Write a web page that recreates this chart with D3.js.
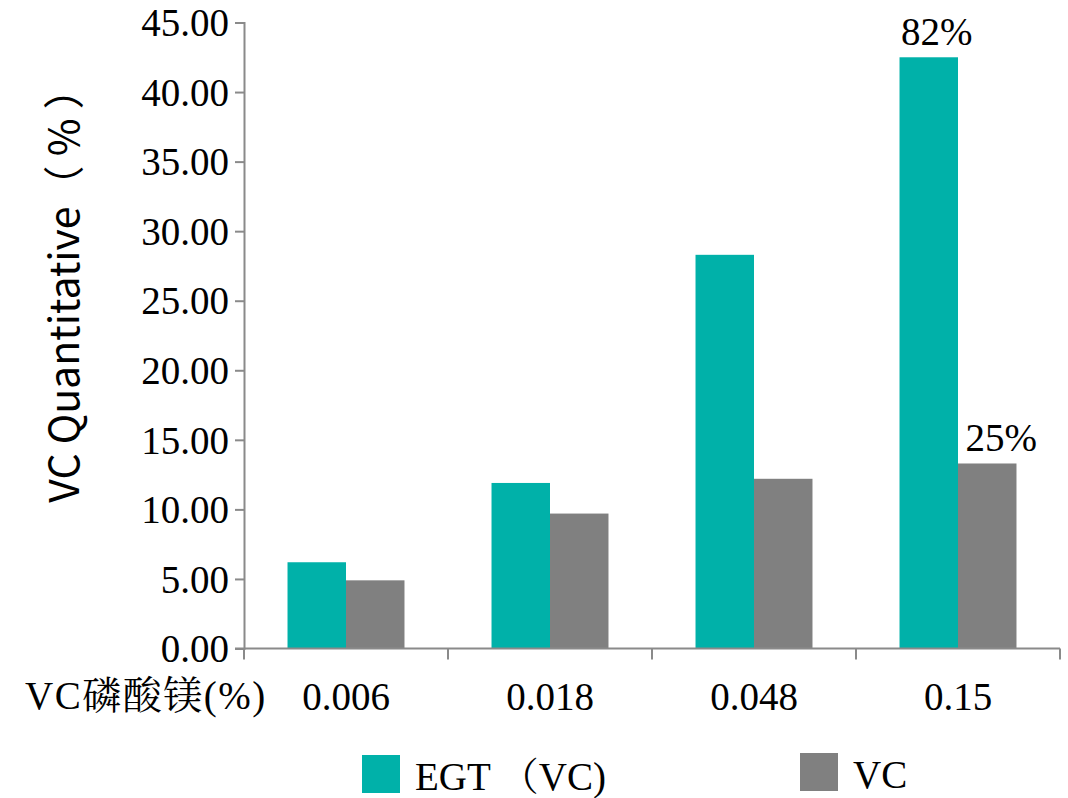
<!DOCTYPE html>
<html>
<head>
<meta charset="utf-8">
<script src="https://cdn.jsdelivr.net/npm/d3@7"></script>
</head>
<body style="margin:0">
<svg id="chart" width="1068" height="798" font-family="Liberation Serif"></svg>
<script>
// Concentration groups (VC magnesium phosphate, %)
const categories = ["0.006", "0.018", "0.048", "0.15"];
// Series names and values
const seriesNames = ["EGT （VC)", "VC"];
const egtValues = [6.2, 11.9, 28.3, 42.5];
const vcValues = [4.9, 9.7, 12.2, 13.3];
// Tick labels on the value axis
const yTicks = [0, 5, 10, 15, 20, 25, 30, 35, 40, 45];
// Percent annotations on the last group
const annotations = [
  { series: 0, index: 3, text: "82%" },
  { series: 1, index: 3, text: "25%" }
];

const colors = ["#00B1A9", "#808080"];
const axisColor = "#8a8a8a";
const SERIF = '"Liberation Serif", "Noto Serif CJK SC"';
const SANS = "Noto Sans CJK SC";

const svg = d3.select("#chart");
const margin = { left: 244, right: 8, top: 22.5, bottom: 149.5 };
const W = 1068, H = 798;

const x0 = d3.scaleBand().domain(categories)
  .range([margin.left, W - margin.right]).padding(0);
const x1 = d3.scaleBand().domain([0, 1])
  .range([0, x0.bandwidth()]).paddingInner(0).paddingOuter(0.744);
const y = d3.scaleLinear().domain([0, 45]).range([H - margin.bottom, margin.top]);

const series = [egtValues, vcValues];

// Bars
const groups = svg.append("g").selectAll("g")
  .data(categories).join("g")
  .attr("transform", d => `translate(${x0(d)},0)`);

groups.selectAll("rect")
  .data((d, i) => series.map((vals, s) => ({ s, v: vals[i] })))
  .join("rect")
  .attr("x", d => x1(d.s))
  .attr("width", x1.bandwidth())
  .attr("y", d => y(d.v))
  .attr("height", d => y(0) - y(d.v))
  .attr("fill", d => colors[d.s]);

// Value axis
const yAxis = svg.append("g")
  .attr("transform", `translate(${margin.left},0)`)
  .call(d3.axisLeft(y).tickValues(yTicks).tickFormat(d3.format(".2f")).tickSize(9).tickPadding(6));
yAxis.attr("font-family", "Liberation Serif").attr("font-size", 39);
yAxis.select(".domain").attr("stroke", axisColor).attr("stroke-width", 2);
yAxis.selectAll(".tick line").attr("stroke", axisColor).attr("stroke-width", 2);
yAxis.selectAll(".tick text")
  .style("font-family", SERIF)
  .style("font-size", "39px").attr("fill", "#000")
  .attr("dy", "0.34em");

// Category axis
const xAxis = svg.append("g")
  .attr("transform", `translate(0,${y(0)})`);
xAxis.append("line")
  .attr("x1", margin.left - 9).attr("x2", W - margin.right)
  .attr("stroke", axisColor).attr("stroke-width", 2);
const boundaries = categories.map(c => x0(c)).concat([x0.range()[1]]);
xAxis.selectAll("line.bt").data(boundaries).join("line")
  .attr("class", "bt")
  .attr("x1", d => d).attr("x2", d => d)
  .attr("y1", 0).attr("y2", 11)
  .attr("stroke", axisColor).attr("stroke-width", 2);
xAxis.selectAll("text.cat").data(categories).join("text")
  .attr("class", "cat")
  .attr("x", d => x0(d) + x0.bandwidth() / 2)
  .attr("y", 61)
  .attr("text-anchor", "middle")
  .style("font-family", SERIF)
  .style("font-size", "39px")
  .text(d => d);

// Category axis title
svg.append("text")
  .attr("x", 25).attr("y", 709)
  .style("font-family", SERIF)
  .style("font-size", "39px")
  .style("letter-spacing", "1.5px")
  .text("VC磷酸镁(%)");

// Value axis title
svg.append("text")
  .attr("transform", `translate(79,${(margin.top + y(0)) / 2 - 50}) rotate(-90)`)
  .attr("text-anchor", "middle")
  .style("font-family", SANS)
  .style("font-size", "41px")
  .text("VC Quantitative（ % ）");

// Annotations
svg.selectAll("text.ann").data(annotations).join("text")
  .attr("class", "ann")
  .attr("x", d => x0(categories[d.index]) + x1(d.series) + x1.bandwidth() / 2 + (d.series === 1 ? 14 : 8))
  .attr("y", d => y(series[d.series][d.index]) - 12)
  .attr("text-anchor", "middle")
  .style("font-family", SERIF)
  .style("font-size", "39px")
  .text(d => d.text);

// Legend
const legendPos = [{ x: 362, y: 755 }, { x: 800, y: 753 }];
const legend = svg.selectAll("g.leg").data(seriesNames).join("g")
  .attr("class", "leg")
  .attr("transform", (d, i) => `translate(${legendPos[i].x},${legendPos[i].y})`);
legend.append("rect")
  .attr("width", 38).attr("height", 38)
  .attr("fill", (d, i) => colors[i]);
legend.append("text")
  .attr("x", 53).attr("y", 35)
  .style("font-family", SERIF)
  .style("font-size", "39px")
  .text(d => d);
</script>
</body>
</html>
